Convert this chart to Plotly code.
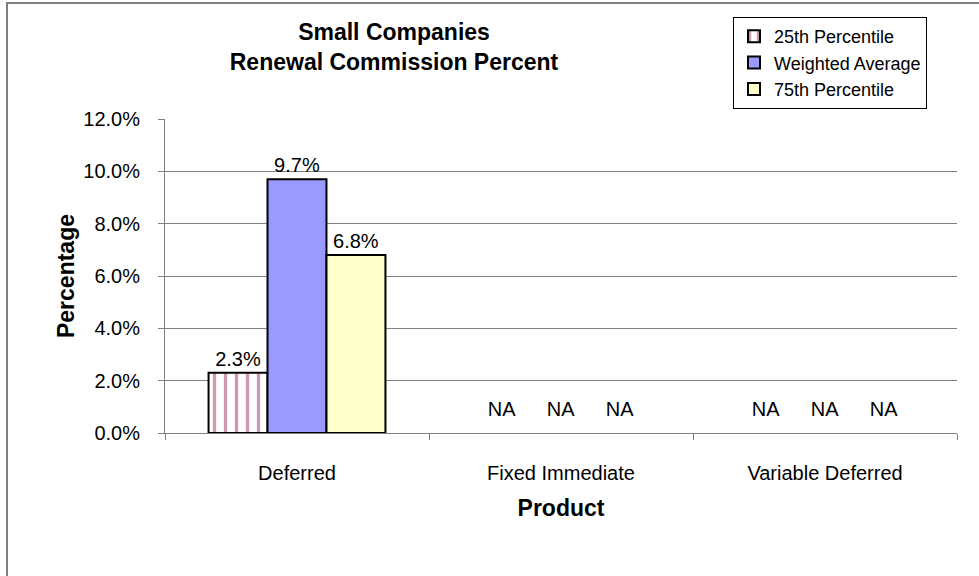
import plotly.graph_objects as go

categories = ["Deferred", "Fixed Immediate", "Variable Deferred"]
series_names = ["25th Percentile", "Weighted Average", "75th Percentile"]
p25 = [0.023, None, None]
wavg = [0.097, None, None]
p75 = [0.068, None, None]
y_ticks = [0.0, 0.02, 0.04, 0.06, 0.08, 0.10, 0.12]
na_label = "NA"

series_values = [p25, wavg, p75]
colors = ["white", "#9999FF", "#FFFFCC"]
FONT = "Liberation Sans, Arial, sans-serif"
TXT = 20
TITLE = 23
NA_BAND = 0.018  # invisible helper bar height used only to place the NA labels

fig = go.Figure()
for i, (name, vals, col) in enumerate(zip(series_names, series_values, colors)):
    marker = dict(color=col, line=dict(color="black", width=2))
    if i == 0:
        marker["pattern"] = dict(shape="|", fgcolor="#993366", bgcolor="white",
                                 size=11, solidity=0.3, fillmode="overlay")
    fig.add_trace(go.Bar(
        x=categories, y=vals, name=name, offsetgroup=str(i),
        marker=marker,
        text=[f"{v*100:.1f}%" if v is not None else "" for v in vals],
        textposition="outside", cliponaxis=False,
        textfont=dict(family=FONT, size=TXT, color="black"),
    ))

for i, vals in enumerate(series_values):
    fig.add_trace(go.Bar(
        x=categories,
        y=[NA_BAND if v is None else None for v in vals],
        offsetgroup=str(i), showlegend=False, hoverinfo="skip",
        marker=dict(color="rgba(0,0,0,0)", line=dict(width=0)),
        text=[na_label if v is None else "" for v in vals],
        textposition="inside", insidetextanchor="middle",
        textfont=dict(family=FONT, size=TXT, color="black"),
        textangle=0,
    ))

fig.update_layout(
    width=979, height=576,
    margin=dict(l=165, r=22, t=119, b=143),
    paper_bgcolor="white", plot_bgcolor="white",
    barmode="group", bargap=0.33, bargroupgap=0,
    font=dict(family=FONT, size=TXT, color="black"),
    title=dict(text="<b>Small Companies<br>Renewal Commission Percent</b>",
               x=394/979, xref="container", xanchor="center",
               y=1 - 40/576, yanchor="top",
               font=dict(family=FONT, size=TITLE, color="black")),
    legend=dict(x=(733-165)/792, y=(433-17)/314, xanchor="left", yanchor="top",
                bordercolor="black", borderwidth=1, bgcolor="white",
                font=dict(family=FONT, size=18, color="black"),
                traceorder="normal", itemwidth=30, tracegroupgap=0),
    showlegend=True,
)

fig.update_xaxes(
    type="category", showline=True, linecolor="#808080", linewidth=1,
    ticks="outside", tickson="boundaries", ticklen=6, tickcolor="#808080",
    ticklabelstandoff=22,
    tickfont=dict(family=FONT, size=TXT),
    title=dict(text="<b>Product</b>", font=dict(family=FONT, size=TITLE), standoff=16),
    showgrid=False,
)
fig.update_yaxes(
    range=[0, 0.12], tickvals=y_ticks, tickformat=".1%",
    showline=True, linecolor="#808080", linewidth=1,
    ticks="outside", ticklen=6, tickcolor="#808080",
    ticklabelstandoff=14,
    showgrid=True, gridcolor="#808080", gridwidth=1,
    zeroline=False,
    tickfont=dict(family=FONT, size=TXT),
    title=dict(text="<b>Percentage</b>", font=dict(family=FONT, size=TITLE), standoff=2),
)

# outer chart border
fig.add_shape(type="rect", xref="paper", yref="paper",
              x0=(7-165)/792, x1=1.2, y0=(433-3)/314, y1=-0.6,
              line=dict(color="#808080", width=2), fillcolor="rgba(0,0,0,0)",
              layer="below")

fig.write_html("out.html", config={"displayModeBar": False},
               post_script="document.body.style.margin='0';")
